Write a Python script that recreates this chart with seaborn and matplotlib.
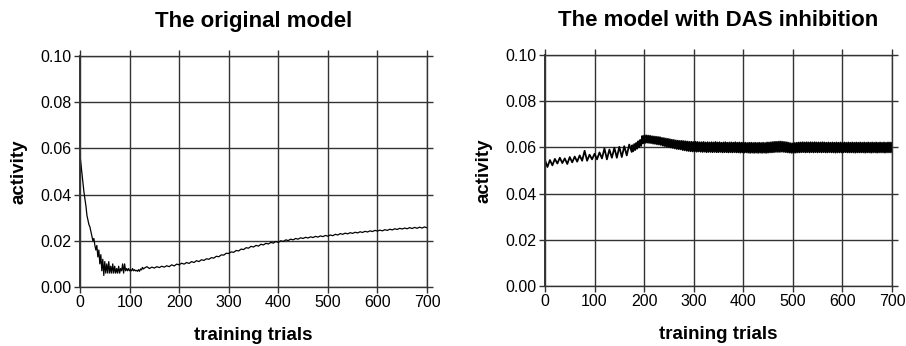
import numpy as np
import pandas as pd
import matplotlib
matplotlib.use("Agg")
import matplotlib.pyplot as plt
import seaborn as sns

# ---------------- data ----------------
titles = ["The original model", "The model with DAS inhibition"]
x_label = "training trials"
y_label = "activity"
x_ticks = [0, 100, 200, 300, 400, 500, 600, 700]
y_ticks = [0.00, 0.02, 0.04, 0.06, 0.08, 0.10]

# original model: trials 0..130 every 2, then 135..700 every 5
orig_early_trials = list(range(0, 131, 2))
orig_early = [
    0.057, 0.053, 0.049, 0.045, 0.041, 0.038, 0.035, 0.031, 0.029, 0.027,
    0.026, 0.024, 0.022, 0.020, 0.021, 0.018, 0.016, 0.018, 0.013, 0.016,
    0.010, 0.014, 0.007, 0.012, 0.005, 0.011, 0.006, 0.010, 0.006, 0.011,
    0.006, 0.009, 0.006, 0.010, 0.006, 0.009, 0.006, 0.008, 0.006, 0.009,
    0.006, 0.008, 0.007, 0.010, 0.006, 0.010, 0.007, 0.008, 0.007, 0.008,
    0.007, 0.0075, 0.007, 0.008, 0.007, 0.0075, 0.007, 0.0072, 0.0068, 0.0075,
    0.0068, 0.0078, 0.0074, 0.0085, 0.0078, 0.0082,
]
orig_late_trials = list(range(135, 701, 5))
orig_late = [
    0.0088, 0.0080, 0.0086, 0.0082, 0.0088, 0.0084, 0.0090, 0.0086, 0.0092, 0.0088,
    0.0096, 0.0091, 0.0099, 0.0096, 0.0103, 0.0099, 0.0106, 0.0102, 0.0110, 0.0106,
    0.0114, 0.0110, 0.0118, 0.0115, 0.0122, 0.0120, 0.0127, 0.0125, 0.0133, 0.0131,
    0.0139, 0.0138, 0.0146, 0.0145, 0.0152, 0.0150, 0.0158, 0.0156, 0.0164, 0.0162,
    0.0170, 0.0168, 0.0176, 0.0173, 0.0180, 0.0177, 0.0185, 0.0182, 0.0189, 0.0186,
    0.0193, 0.0190, 0.0197, 0.0193, 0.0200, 0.0197, 0.0204, 0.0201, 0.0207, 0.0204,
    0.0210, 0.0207, 0.0213, 0.0210, 0.0215, 0.0212, 0.0217, 0.0214, 0.0219, 0.0216,
    0.0221, 0.0218, 0.0223, 0.0220, 0.0225, 0.0222, 0.0228, 0.0225, 0.0231, 0.0228,
    0.0233, 0.0230, 0.0235, 0.0232, 0.0237, 0.0234, 0.0239, 0.0236, 0.0241, 0.0238,
    0.0243, 0.0240, 0.0245, 0.0242, 0.0246, 0.0243, 0.0248, 0.0245, 0.0250, 0.0247,
    0.0252, 0.0249, 0.0254, 0.0251, 0.0255, 0.0252, 0.0257, 0.0253, 0.0258, 0.0254,
    0.0259, 0.0255, 0.0260, 0.0256,
]

# DAS inhibition model: trials 0..175 every 5, then 176..700 every 2
das_early_trials = list(range(0, 176, 5))
das_early = [
    0.0545, 0.0515, 0.0545, 0.0522, 0.0550, 0.0530, 0.0555, 0.0532, 0.0552, 0.0528,
    0.0558, 0.0535, 0.0560, 0.0538, 0.0565, 0.0542, 0.0585, 0.0542, 0.0568, 0.0548,
    0.0572, 0.0548, 0.0578, 0.0552, 0.0595, 0.0548, 0.0590, 0.0555, 0.0598, 0.0555,
    0.0602, 0.0558, 0.0605, 0.0565, 0.0612, 0.0580,
]
das_late_trials = list(range(176, 701, 2))
das_late = [
    0.0609, 0.0583, 0.0614, 0.0588, 0.0619, 0.0594, 0.0626, 0.0600, 0.0632, 0.0606,
    0.0649, 0.0617, 0.0651, 0.0619, 0.0652, 0.0620, 0.0651, 0.0619, 0.0650, 0.0618,
    0.0648, 0.0616, 0.0647, 0.0615, 0.0646, 0.0613, 0.0645, 0.0612, 0.0644, 0.0610,
    0.0641, 0.0607, 0.0640, 0.0605, 0.0638, 0.0603, 0.0637, 0.0601, 0.0635, 0.0599,
    0.0633, 0.0597, 0.0632, 0.0595, 0.0630, 0.0593, 0.0629, 0.0592, 0.0628, 0.0591,
    0.0628, 0.0588, 0.0627, 0.0587, 0.0626, 0.0585, 0.0625, 0.0584, 0.0624, 0.0583,
    0.0624, 0.0582, 0.0623, 0.0582, 0.0624, 0.0581, 0.0623, 0.0582, 0.0622, 0.0581,
    0.0622, 0.0580, 0.0623, 0.0581, 0.0621, 0.0579, 0.0622, 0.0580, 0.0621, 0.0580,
    0.0622, 0.0579, 0.0621, 0.0580, 0.0623, 0.0579, 0.0621, 0.0579, 0.0622, 0.0580,
    0.0620, 0.0578, 0.0621, 0.0579, 0.0622, 0.0579, 0.0620, 0.0578, 0.0621, 0.0579,
    0.0621, 0.0578, 0.0620, 0.0579, 0.0622, 0.0578, 0.0620, 0.0578, 0.0621, 0.0577,
    0.0620, 0.0578, 0.0621, 0.0577, 0.0620, 0.0578, 0.0619, 0.0577, 0.0620, 0.0576,
    0.0620, 0.0577, 0.0619, 0.0576, 0.0620, 0.0577, 0.0619, 0.0576, 0.0620, 0.0577,
    0.0619, 0.0576, 0.0620, 0.0577, 0.0619, 0.0576, 0.0621, 0.0577, 0.0621, 0.0578,
    0.0622, 0.0578, 0.0623, 0.0579, 0.0624, 0.0580, 0.0624, 0.0580, 0.0625, 0.0580,
    0.0625, 0.0581, 0.0624, 0.0580, 0.0623, 0.0579, 0.0622, 0.0578, 0.0620, 0.0577,
    0.0618, 0.0576, 0.0617, 0.0576, 0.0619, 0.0577, 0.0620, 0.0578, 0.0621, 0.0578,
    0.0621, 0.0579, 0.0622, 0.0579, 0.0621, 0.0578, 0.0622, 0.0579, 0.0621, 0.0578,
    0.0622, 0.0579, 0.0621, 0.0578, 0.0622, 0.0579, 0.0621, 0.0578, 0.0621, 0.0579,
    0.0621, 0.0578, 0.0622, 0.0579, 0.0621, 0.0578, 0.0620, 0.0578, 0.0621, 0.0579,
    0.0620, 0.0578, 0.0621, 0.0578, 0.0620, 0.0577, 0.0621, 0.0578, 0.0620, 0.0578,
    0.0621, 0.0578, 0.0620, 0.0578, 0.0621, 0.0579, 0.0620, 0.0578, 0.0621, 0.0578,
    0.0620, 0.0578, 0.0621, 0.0578, 0.0620, 0.0577, 0.0621, 0.0578, 0.0620, 0.0578,
    0.0621, 0.0578, 0.0620, 0.0578, 0.0621, 0.0577, 0.0620, 0.0578, 0.0621, 0.0578,
    0.0620, 0.0577, 0.0621, 0.0578, 0.0620, 0.0578, 0.0621, 0.0577, 0.0620, 0.0578,
    0.0621, 0.0578, 0.0620, 0.0578, 0.0621, 0.0577, 0.0620, 0.0578, 0.0621, 0.0578,
    0.0621, 0.0578, 0.0620,
]

orig_df = pd.DataFrame({"trial": orig_early_trials + orig_late_trials,
                        "activity": orig_early + orig_late})
das_df = pd.DataFrame({"trial": das_early_trials + das_late_trials,
                       "activity": das_early + das_late})

# ---------------- style ----------------
sns.set_style("white")
plt.rcParams["font.family"] = ["Liberation Sans", "DejaVu Sans"]
plt.rcParams["path.simplify"] = False
plt.rcParams["text.color"] = "black"
plt.rcParams["axes.labelcolor"] = "black"
grid_c = "#333333"

fig = plt.figure(figsize=(9.06, 3.46), dpi=100)
ax1 = fig.add_axes([0.0883, 0.1705, 0.383, 0.668])
ax2 = fig.add_axes([0.6015, 0.1734, 0.383, 0.668])

for ax, df, title, lw in [(ax1, orig_df, titles[0], 0.9),
                          (ax2, das_df, titles[1], 1.3)]:
    sns.lineplot(data=df, x="trial", y="activity", ax=ax, color="black",
                 linewidth=lw, estimator=None, sort=False)
    ax.set_xlim(0, 700)
    ax.set_ylim(0, 0.10)
    ax.set_xticks(x_ticks)
    ax.set_yticks(y_ticks)
    ax.set_xticklabels([str(t) for t in x_ticks])
    ax.set_yticklabels([f"{t:.2f}" for t in y_ticks])
    ax.grid(True, color=grid_c, linewidth=1.0)
    ax.set_axisbelow(True)
    for s in ax.spines.values():
        s.set_visible(True)
        s.set_color(grid_c)
        s.set_linewidth(1.0)
    ax.spines["left"].set_linewidth(1.4)
    ax.tick_params(axis="both", which="both", direction="out", length=4,
                   width=1.0, color=grid_c, labelsize=11.5, labelcolor="black",
                   top=True, right=True, bottom=True, left=True,
                   labeltop=False, labelright=False, pad=2)
    ax.set_title(title, fontsize=16, fontweight="bold", pad=21, color="black")
    ax.set_xlabel(x_label, fontsize=13.5, fontweight="bold", labelpad=12)
    ax.set_ylabel(y_label, fontsize=13.5, fontweight="bold", labelpad=9)

fig.savefig("out.png", dpi=100)
